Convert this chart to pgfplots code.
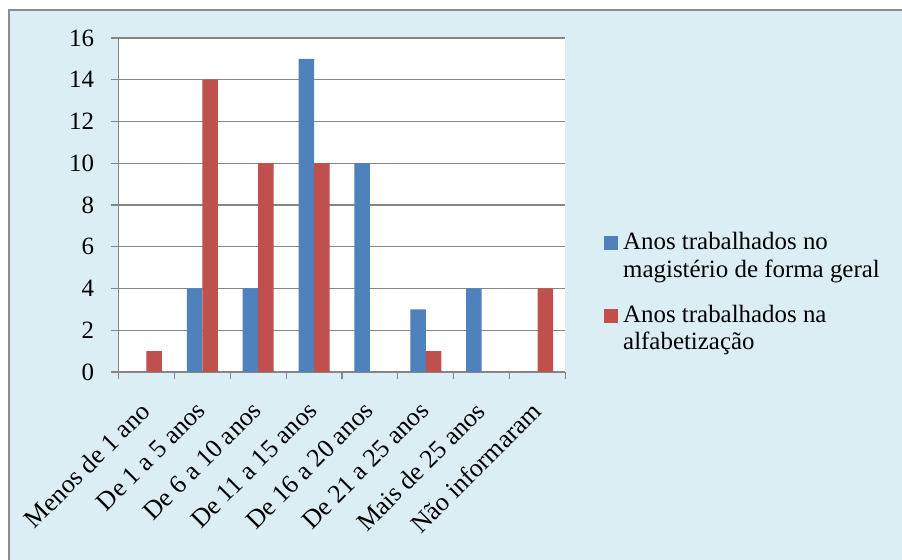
\documentclass[border=0pt]{standalone}
\usepackage{fontspec}
\setmainfont{Liberation Serif}
\usepackage{pgfplots}
\pgfplotsset{compat=1.18}
\definecolor{bg}{RGB}{219,238,244}
\definecolor{framec}{RGB}{140,140,140}
\definecolor{gridc}{RGB}{134,134,134}
\definecolor{bblue}{RGB}{79,129,189}
\definecolor{bred}{RGB}{192,80,77}
\begin{document}
\begin{tikzpicture}
\useasboundingbox (0bp,0bp) rectangle (902bp,560bp);
\fill[bg] (8bp,0bp) rectangle (902bp,551bp);
\draw[framec, line width=2bp] (9bp,0bp) -- (9bp,550bp) -- (902bp,550bp);
\begin{axis}[
  at={(118.5bp,188bp)}, anchor=south west,
  scale only axis, width=447bp, height=334bp,
  axis background/.style={fill=white},
  ybar=0pt, bar width=15.5bp,
  xmin=-0.5, xmax=7.5, ymin=0, ymax=16,
  axis x line*=bottom, axis y line*=left,
  axis line style={gridc, line width=1.2bp},
  xtick={0,...,7},
  xticklabels={Menos de 1 ano, De 1 a 5 anos, De 6 a 10 anos, De 11 a 15 anos, De 16 a 20 anos, De 21 a 25 anos, Mais de 25 anos, Não informaram},
  minor xtick={-0.5,0.5,...,7.5},
  major x tick style={draw=none},
  minor x tick style={gridc, line width=1.2bp},
  minor tick length=7bp,
  ytick={0,2,...,16},
  major y tick style={gridc, line width=1.2bp},
  major tick length=7bp,
  tick align=outside,
  ymajorgrids, major grid style={gridc, line width=1.2bp},
  /pgf/number format/assume math mode=true,
  yticklabel style={font=\fontsize{25}{30}\selectfont, xshift=-14bp},
  xticklabel style={font=\fontsize{26}{31}\selectfont, rotate=45, anchor=north east, xshift=-17bp, yshift=-6bp},
  legend style={at={(1.0795,0.4315)}, anchor=north west, draw=none, fill=none,
    font=\fontsize{25}{28}\selectfont, cells={anchor=west, align=left}, row sep=22bp},
  legend image code/.code={\fill[#1, draw=none] (0bp,5bp) rectangle (14bp,19bp); \path (17bp,0bp);},
]
\addplot[fill=bblue, draw=none] coordinates {(0,0) (1,4) (2,4) (3,15) (4,10) (5,3) (6,4) (7,0)};
\addplot[fill=bred, draw=none] coordinates {(0,1) (1,14) (2,10) (3,10) (4,0) (5,1) (6,0) (7,4)};
\legend{Anos trabalhados no\\magistério de forma geral, Anos trabalhados na\\alfabetização}
\end{axis}
\end{tikzpicture}
\end{document}
